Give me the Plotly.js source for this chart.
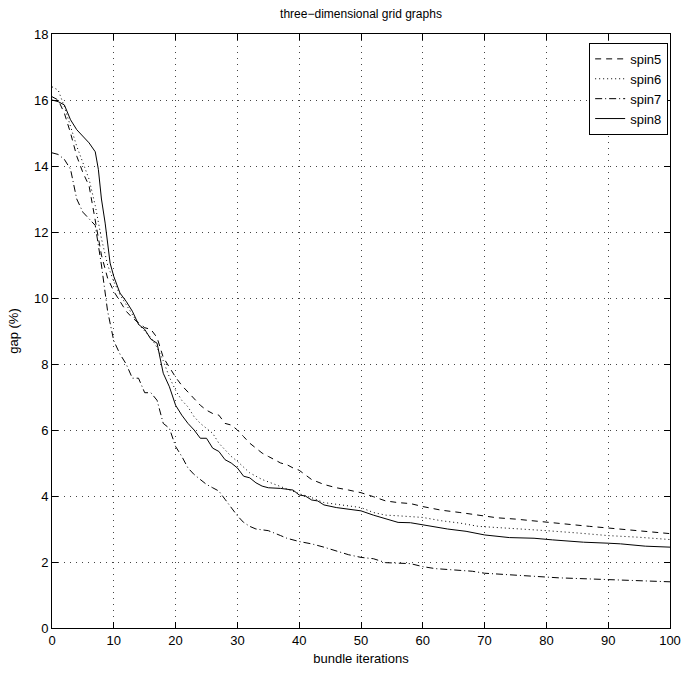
<!DOCTYPE html>
<html><head><meta charset="utf-8">
<script src="https://cdn.plot.ly/plotly-3.0.1.min.js"></script>
<style>html,body{margin:0;padding:0;background:#fff}</style>
</head><body>
<div id="chart" style="width:685px;height:677px"></div>
<script>
const spin5X = [0,1,2,3,4,5,6,7,8,9,10,11,12,13,14,15,16,17,18,19,20,21,22,23,24,25,26,27,28,29,30,31,32,33,34,35,36,37,38,39,40,42,44,46,48,50,52,54,56,58,60,63,66,69,72,75,78,81,84,87,90,93,96,100];
const spin5Y = [16.1,16.0,15.6,15.0,14.3,13.8,13.4,12.4,11.3,10.6,10.2,9.9,9.6,9.4,9.25,9.1,9.05,8.8,8.2,7.9,7.6,7.35,7.15,6.95,6.75,6.6,6.5,6.45,6.2,6.15,6.0,5.8,5.6,5.45,5.3,5.2,5.1,5.0,4.95,4.85,4.78,4.5,4.35,4.25,4.18,4.1,3.98,3.85,3.8,3.77,3.68,3.57,3.5,3.43,3.34,3.3,3.24,3.18,3.12,3.08,3.03,2.98,2.92,2.86];

const spin6X = [0,1,2,3,4,5,6,7,8,9,10,11,12,13,14,15,16,17,18,19,20,21,22,23,24,25,26,27,28,29,30,32,34,36,38,40,42,44,46,48,50,52,54,56,60,63,66,69,72,75,80,85,90,95,100];
const spin6Y = [16.4,16.3,15.8,15.2,14.6,14.1,13.6,12.8,11.8,11.0,10.5,10.1,9.8,9.5,9.2,9.0,8.8,8.5,8.1,7.6,7.2,6.9,6.7,6.4,6.2,6.05,5.9,5.6,5.4,5.2,5.05,4.7,4.5,4.35,4.2,4.07,3.95,3.8,3.75,3.7,3.65,3.5,3.42,3.4,3.35,3.25,3.18,3.08,3.05,3.0,2.95,2.88,2.8,2.75,2.68];

const spin7X = [0,1,2,3,4,5,6,7,8,9,10,11,12,13,14,15,16,17,18,19,20,21,22,23,24,25,26,27,28,29,30,31,32,33,35,37,38,40,42,44,46,48,50,52,54,56,58,60,62,65,68,70,73,76,79,82,85,88,91,94,97,100];
const spin7Y = [14.4,14.35,14.2,13.9,13.0,12.6,12.4,12.2,11.0,9.6,8.7,8.3,8.0,7.57,7.57,7.13,7.13,6.9,6.2,6.05,5.5,5.2,4.85,4.65,4.5,4.35,4.25,4.15,3.9,3.65,3.4,3.2,3.08,3.0,2.95,2.8,2.72,2.62,2.55,2.45,2.33,2.22,2.14,2.1,1.98,1.96,1.95,1.86,1.8,1.76,1.72,1.66,1.62,1.58,1.56,1.52,1.5,1.48,1.45,1.43,1.42,1.4];

const spin8X = [0,1,2,3,4,5,6,7,7.5,8,8.6,9.4,10,11,12,13,14,15,16,17,18,19,20,21,22,23,24,25,26,27,28,29,30,31,32,33,34,35,37,39,40,41,42,43,44,46,48,50,52,54,56,58,59.5,62,64,67,70,74,78,81,84,86,90,92,96,100];
const spin8Y = [16.0,15.95,15.85,15.4,15.1,14.9,14.7,14.43,13.9,13.0,12.27,11.06,10.65,10.15,9.9,9.6,9.2,9.05,8.75,8.63,7.72,7.31,6.75,6.45,6.2,6.0,5.75,5.75,5.45,5.35,5.1,5.0,4.85,4.6,4.55,4.4,4.3,4.25,4.23,4.18,4.03,4.0,3.88,3.85,3.73,3.65,3.6,3.55,3.42,3.3,3.2,3.19,3.14,3.05,3.0,2.93,2.82,2.74,2.72,2.67,2.62,2.6,2.57,2.55,2.48,2.45];

const seriesNames = ['spin5','spin6','spin7','spin8'];
const dashes = ['6px,5px','1px,3px','7px,3px,1px,3px','solid'];
const xs = [spin5X, spin6X, spin7X, spin8X];
const ys = [spin5Y, spin6Y, spin7Y, spin8Y];

const traces = seriesNames.map((n,i)=>({
  x: xs[i], y: ys[i], name: n, type: 'scatter', mode: 'lines',
  line: {color: '#000', width: 1, dash: dashes[i]}
}));

const font = {family: 'Liberation Sans, Arial, Helvetica, sans-serif', size: 13, color: '#000'};
const axisCommon = {
  showline: true, linecolor: '#000', linewidth: 1, mirror: 'ticks',
  ticks: 'inside', ticklen: 6, tickcolor: '#000', tickwidth: 1,
  showgrid: true, gridcolor: '#444', gridwidth: 1, griddash: '1px,5px',
  zeroline: false, tickfont: {family: font.family, size: 13, color: '#000'}
};

const layout = {
  width: 685, height: 677,
  margin: {l: 52, r: 15, t: 34, b: 49},
  paper_bgcolor: '#fff', plot_bgcolor: '#fff',
  font: font,
  title: {text: 'three\u2212dimensional grid graphs', font: {family: font.family, size: 12, color: '#000'}, x: 0.5, xref: 'paper', xanchor: 'center', y: 0.979, yref: 'container', yanchor: 'middle'},
  xaxis: Object.assign({}, axisCommon, {range: [0,100], dtick: 10, tick0: 0,
    title: {text: 'bundle iterations', font: {family: font.family, size: 13, color: '#000'}, standoff: 7}}),
  yaxis: Object.assign({}, axisCommon, {range: [0,18], dtick: 2, tick0: 0,
    title: {text: 'gap (%)', font: {family: font.family, size: 13, color: '#000'}, standoff: 12}}),
  showlegend: true,
  legend: {x: 0.997, y: 0.985, xanchor: 'right', yanchor: 'top', bgcolor: '#fff', bordercolor: '#000', borderwidth: 1,
    font: {family: font.family, size: 13, color: '#000'}, tracegroupgap: 0, itemwidth: 30}
};

Plotly.newPlot('chart', traces, layout, {displayModeBar: false, staticPlot: true});
</script>
</body></html>
